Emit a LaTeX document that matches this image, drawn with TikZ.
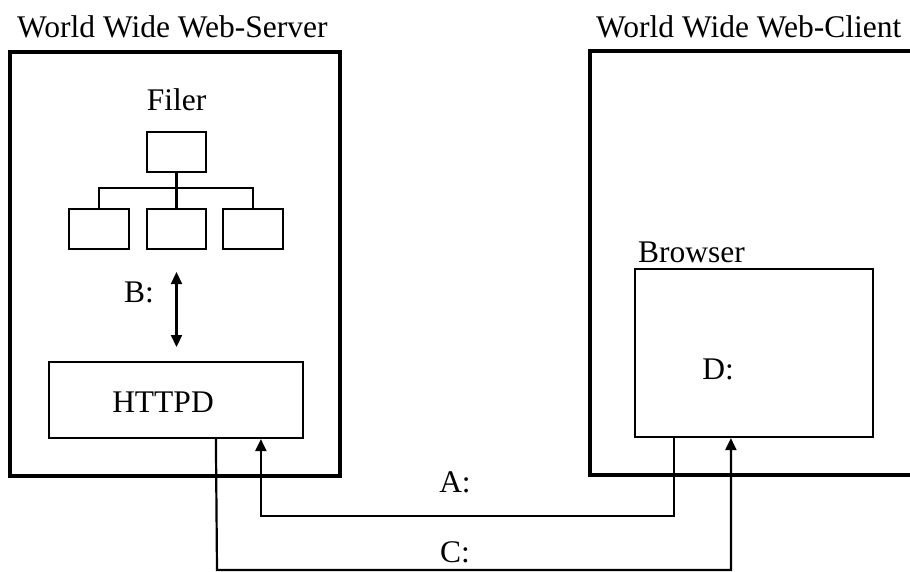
\documentclass[tikz,border=0pt]{standalone}
\usepackage{fontspec}
\setmainfont{Liberation Serif}
\usetikzlibrary{arrows.meta,calc}
\begin{document}
\begin{tikzpicture}[x=1pt,y=-1pt,
  thickbox/.style={draw,line width=4.4pt,minimum width=#1,inner sep=0pt},
  thinbox/.style={draw,line width=2.2pt,inner sep=0pt},
  conn/.style={line width=2.2pt},
  arr/.style={line width=2.2pt,-{Triangle[length=12pt,width=11pt]}},
  darr/.style={line width=2.2pt,{Triangle[length=12pt,width=11pt]}-{Triangle[length=12pt,width=11pt]}},
  lbl/.style={font=\fontsize{31.5}{34}\selectfont,inner sep=0pt}]
\useasboundingbox (0,0) rectangle (910,572);
% outer boxes
\node[thickbox=330pt,minimum height=424pt] (server) at (175,264) {};
\node[thickbox=340pt,minimum height=424pt] (client) at (760,263) {};
\node[lbl,anchor=base west] (servertitle) at (17,38) {World Wide Web-Server};
\node[lbl,anchor=base west] (clienttitle) at (596,38) {World Wide Web-Client};
% filer
\node[lbl,anchor=base] (filer) at (176.5,111) {Filer};
\node[thinbox,minimum width=59pt,minimum height=40pt] (ftop) at (176.5,152) {};
\node[thinbox,minimum width=60pt,minimum height=40pt] (fa) at (99,229) {};
\node[thinbox,minimum width=59pt,minimum height=40pt] (fb) at (176.5,229) {};
\node[thinbox,minimum width=60pt,minimum height=40pt] (fc) at (253,229) {};
\draw[conn] (ftop.south) -- (fb.north);
\draw[conn] (fa.north) -- ++(0,-20) -| (fc.north);
% HTTPD
\node[thinbox,minimum width=254pt,minimum height=76pt] (httpd) at (176,400) {};
\node[lbl] (httpdtxt) at (163,402) {HTTPD};
\coordinate (bt) at (176.5,272);
\coordinate (bb) at (176.5,347);
\draw[darr] (bt) -- (bb);
\node[lbl] (blabel) at (139,292) {B:};
% Browser
\node[lbl,anchor=base west] (browsertitle) at (638,262) {Browser};
\node[thinbox,minimum width=238pt,minimum height=168pt] (browser) at (754,353) {};
\node[lbl] (dlabel) at (718,369) {D:};
% connectors
\coordinate (aout) at ($(browser.south west)+(40,0)$);
\coordinate (ain) at ($(httpd.south west)+(213,0)$);
\coordinate (cout) at ($(httpd.south west)+(168,0)$);
\coordinate (cin) at ($(browser.south west)+(97,0)$);
\draw[arr] (aout) -- ++(0,78) -| (ain);
\draw[arr] (cout) -- (217,570) -| (cin);
\node[lbl] (alabel) at (455,482) {A:};
\node[lbl] (clabel) at (455,552) {C:};
\end{tikzpicture}
\end{document}
